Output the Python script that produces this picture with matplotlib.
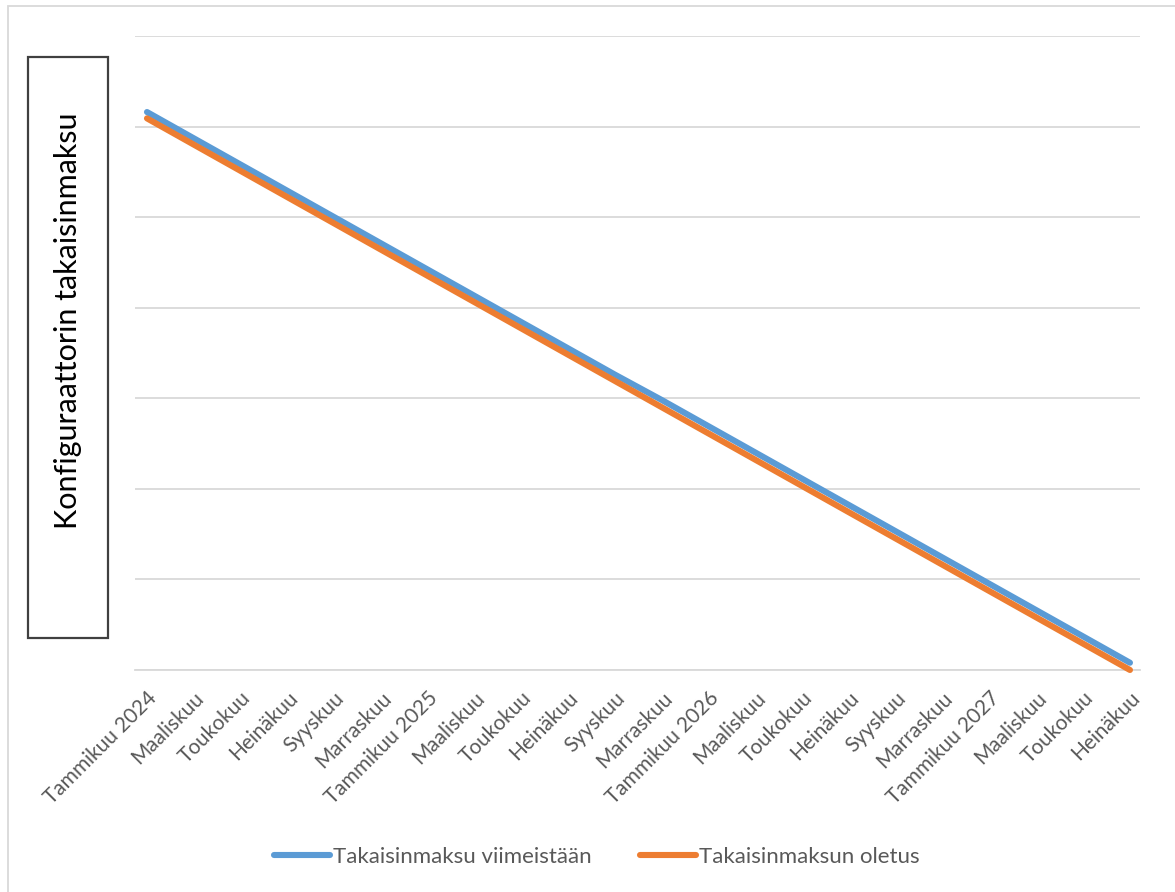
import matplotlib.pyplot as plt
from matplotlib.patches import Rectangle

plt.rcParams['font.family'] = ['Lato', 'DejaVu Sans']

# every other month is labelled on the category axis
months = ["Tammikuu 2024", "Maaliskuu", "Toukokuu", "Heinäkuu", "Syyskuu", "Marraskuu",
          "Tammikuu 2025", "Maaliskuu", "Toukokuu", "Heinäkuu", "Syyskuu", "Marraskuu",
          "Tammikuu 2026", "Maaliskuu", "Toukokuu", "Heinäkuu", "Syyskuu", "Marraskuu",
          "Tammikuu 2027", "Maaliskuu", "Toukokuu", "Heinäkuu"]
viimeistaan = [6.16, 5.87, 5.58, 5.29, 5.00, 4.71, 4.42, 4.13, 3.84, 3.55, 3.26,
               2.98, 2.69, 2.40, 2.11, 1.82, 1.53, 1.24, 0.95, 0.66, 0.37, 0.08]
oletus = [6.09, 5.80, 5.51, 5.22, 4.93, 4.64, 4.35, 4.06, 3.77, 3.48, 3.19,
          2.90, 2.61, 2.32, 2.03, 1.74, 1.45, 1.16, 0.87, 0.58, 0.29, 0.00]
y_ticks = [0, 1, 2, 3, 4, 5, 6, 7]

fig = plt.figure(figsize=(11.75, 8.92), dpi=100)
ax = fig.add_axes([0.1149, 0.2489, 0.8553, 0.7108])

x = list(range(len(months)))
ax.plot(x, viimeistaan, color='#5B9BD5', lw=4.4, solid_capstyle='round',
        label='Takaisinmaksu viimeistään', clip_on=False, zorder=3)
ax.plot(x, oletus, color='#ED7D31', lw=4.4, solid_capstyle='round',
        label='Takaisinmaksun oletus', clip_on=False, zorder=3)

ax.set_xlim(-0.256, len(months) - 1 + 0.214)
ax.set_ylim(0, 7)
ax.set_yticks(y_ticks)
ax.set_yticklabels([])
ax.tick_params(axis='y', length=0)
ax.grid(axis='y', color='#d9d9d9', lw=1.3)
ax.set_axisbelow(True)
for side in ['top', 'right', 'left']:
    ax.spines[side].set_visible(False)
ax.spines['bottom'].set_color('#d9d9d9')
ax.spines['bottom'].set_linewidth(1.3)

ax.set_xticks(x)
ax.set_xticklabels(months, rotation=45, ha='right', va='top', rotation_mode='anchor',
                   fontsize=15, color='#595959')
ax.tick_params(axis='x', length=0, pad=13)

# y-axis title inside a framed box
fig.patches.append(Rectangle((28 / 1175, 1 - 638 / 892), 80 / 1175, 581 / 892,
                             transform=fig.transFigure, fill=False,
                             edgecolor='#404040', lw=1.6))
fig.text(68 / 1175, 1 - 321 / 892, 'Konfiguraattorin takaisinmaksu', rotation=90,
         ha='center', va='center', fontsize=22, color='black')

# outer chart frame
fig.patches.append(Rectangle((8 / 1175, -0.05), 1.1, 1 - 6 / 892 + 0.05,
                             transform=fig.transFigure, fill=False,
                             edgecolor='#d9d9d9', lw=1.3))

fig.legend(loc='center', bbox_to_anchor=(597 / 1175, 1 - 857 / 892), ncol=2,
           frameon=False, fontsize=16, handlelength=2.5, handletextpad=0.15,
           columnspacing=2.2, labelcolor='#595959')

fig.savefig('out.png', dpi=100)
